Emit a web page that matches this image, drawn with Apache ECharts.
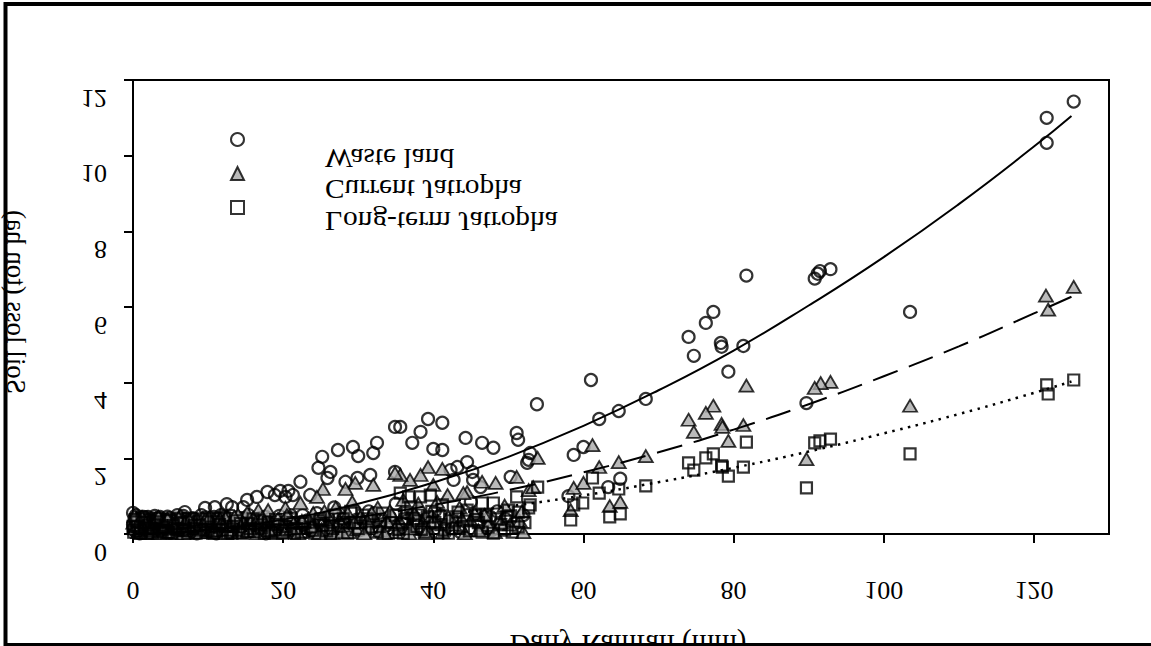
<!DOCTYPE html>
<html><head><meta charset="utf-8">
<script src="https://cdn.jsdelivr.net/npm/echarts@6/dist/echarts.min.js"></script>
<style>html,body{margin:0;padding:0;background:#fff}#c{width:1151px;height:646px}</style>
</head><body><div id="c"></div>
<script>
const seriesNames = ['Waste land', 'Current Jatropha', 'Long-term Jatropha'];
const xTicks = [0, 20, 40, 60, 80, 100, 120];
const yTicks = [0, 2, 4, 6, 8, 10, 12];
const xAxisTitle = 'Daily Rainfall (mm)';
const yAxisTitle = 'Soil loss (ton ha)';

const wasteLand = [
  [125.3,11.43],[121.7,11.0],[121.7,10.34],
  [92.9,7.0],[91.5,6.95],[91.2,6.88],[90.8,6.75],
  [81.7,6.83],[103.5,5.87],[77.3,5.87],[76.3,5.58],[78.3,5.05],[78.4,4.95],[81.3,4.97],[79.3,4.29],[89.7,3.46],[74.0,5.21],[74.7,4.71],
  [61.0,4.07],[53.8,3.43],[62.1,3.04],[64.7,3.25],[68.3,3.57],
  [51.1,2.67],[51.3,2.49],[52.9,2.14],[52.7,1.96],[52.5,1.88],[58.7,2.09],[60.0,2.30],[64.9,1.46],[63.3,1.24],[58.0,1.0],[50.3,1.51],[47.6,0.45],
  [39.3,3.04],[41.2,2.94],[38.3,2.70],[37.2,2.41],[40.0,2.25],[41.2,2.22],[44.3,2.54],[46.5,2.41],[48.0,2.28],[35.6,2.83],
  [44.5,1.90],[43.2,1.77],[42.3,1.69],[45.2,1.64],[42.7,1.43],[45.3,1.43],[46.3,1.24],
  [34.9,2.83],[32.5,2.41],[32.0,2.14],[29.3,2.30],[30.0,2.06],[27.3,2.22],[25.2,2.04],[24.7,1.75],[26.3,1.64],[25.9,1.48],[34.9,1.64],[31.6,1.56],[29.9,1.48],[28.3,1.38],[22.3,1.38],[23.6,1.03],
  [16.5,0.98],[17.9,1.11],[19.6,1.14],[20.7,1.14],[18.9,1.03],[20.3,0.98],[21.3,1.03],[15.2,0.90],[12.5,0.79],[14.7,0.71],[13.2,0.71],[10.9,0.71],[9.6,0.69],[6.9,0.58],[5.9,0.50],[3.6,0.45],[2.0,0.45],[0,0.56],
  [0.2,0.42],[0.5,0.3],[0.8,0.18],[1.0,0.36],[1.3,0.08],[1.6,0.25],[2.2,0.15],[2.6,0.33],[3.0,0.05],[3.3,0.22],[3.9,0.38],[4.4,0.12],[4.8,0.28],[5.3,0.06],[5.8,0.2],[6.4,0.35],[7.0,0.1],[7.6,0.26],[8.2,0.4],[8.8,0.14],[9.5,0.3],[10.2,0.08],[10.8,0.45],[11.4,0.2],[12.0,0.34],[12.8,0.1],[13.6,0.26],[14.3,0.42],[15.0,0.15],[15.8,0.32],[16.6,0.06],[17.3,0.22],[18.2,0.4],[19.0,0.12],[20.0,0.3],[21.0,0.5],[22.0,0.18],[23.2,0.36],[24.5,0.55],[25.5,0.25],[26.8,0.7],[28.0,0.4],[29.5,0.62],[30.8,0.3],[32.2,0.55],[33.6,0.2],[35.0,0.8],[36.5,0.35],[38.0,0.6],[39.5,0.25],[41.0,0.5],[43.0,0.3],[45.0,0.85],[48.5,0.6],[51.0,0.3],
  [0.1,0.12],[0.4,0.5],[0.9,0.02],[1.4,0.45],[1.9,0.3],[2.4,0.05],[2.9,0.48],[3.5,0.12],[4.1,0.3],[4.6,0.46],[5.1,0.2],[5.6,0.38],[6.1,0.04],[6.7,0.48],[7.3,0.18],[7.9,0.42],[8.5,0.02],[9.1,0.5],[9.8,0.15],[10.5,0.38],[11.1,0.02],[11.7,0.5],[12.4,0.22],[13.1,0.48],[13.9,0.05],[14.7,0.3],[15.4,0.5],[16.1,0.22],[16.9,0.42],[17.7,0.02],[18.6,0.18],[19.5,0.48],[20.4,0.08],[21.5,0.28],[22.6,0.5],[23.8,0.08],[25.0,0.32],[26.2,0.1],[27.4,0.55],[28.6,0.15],[29.8,0.38],[31.4,0.6],[32.8,0.05],[34.2,0.45],[35.6,0.15],[37.2,0.5],[38.6,0.1],[40.2,0.6],[41.8,0.2],[43.6,0.05],[44.5,0.5],[46.2,0.25],[47.8,0.1],[49.6,0.4],[52.0,0.5],
  [0.0,0.25],[0.3,0.08],[0.6,0.4],[1.1,0.2],[1.5,0.05],[2.0,0.38],[2.5,0.22],[3.1,0.4],[3.6,0.28],[4.2,0.05],[4.9,0.42],[5.5,0.3],[6.2,0.18],[6.9,0.4],[7.6,0.05],[8.3,0.3],[9.0,0.22],[9.7,0.44],[10.4,0.26],[11.2,0.12],[12.1,0.45],[12.9,0.3],[13.8,0.18],[14.8,0.42],[15.7,0.08],[16.7,0.3],[17.6,0.46],[18.5,0.28],[19.6,0.05],[20.6,0.35],[21.8,0.14],[23.0,0.05],[24.0,0.28],[26.0,0.45],[27.8,0.25],[30.2,0.1],[32.0,0.3],[34.8,0.05],[37.6,0.3],[39.0,0.4],[42.5,0.15],[46.8,0.45]
];

const currentJatropha = [
  [125.3,6.53],[121.6,6.30],[121.9,5.93],[92.9,4.02],[91.6,3.99],[90.8,3.86],[81.7,3.92],[103.5,3.39],[77.3,3.39],[76.3,3.2],[78.4,2.91],[78.5,2.83],[81.3,2.88],[79.3,2.46],[89.7,1.98],[74.0,3.02],[74.7,2.70],
  [61.2,2.35],[62.1,1.77],[64.7,1.90],[68.3,2.06],[53.9,2.01],[51.1,1.51],[58.7,1.22],[60.0,1.35],[63.5,0.74],[64.9,0.85],[58.3,0.63],[52.7,1.16],[53.3,1.24],[48.3,1.35],[46.5,1.38],[44.5,1.11],
  [39.3,1.77],[41.2,1.72],[38.3,1.56],[36.9,1.43],[35.6,1.56],[40.0,1.30],[41.9,1.03],[44.0,1.08],[47.3,0.24],[39.2,0.16],[36.7,0.19],
  [34.9,1.61],[32.0,1.30],[29.6,1.35],[28.3,1.19],[25.3,1.19],[24.5,0.98],[22.3,0.82],[20.3,0.69],[18.0,0.63],[16.7,0.63],[15.2,0.56],[14.0,0.50],[12.3,0.42],[9.3,0.42],[27.3,0.1],[28.9,0.05],
  [0.3,0.15],[0.7,0.05],[1.1,0.22],[1.6,0.1],[2.1,0.3],[2.7,0.04],[3.2,0.18],[3.8,0.08],[4.5,0.25],[5.1,0.12],[5.7,0.02],[6.3,0.2],[7.1,0.1],[7.9,0.28],[8.7,0.05],[9.9,0.16],[10.6,0.3],[11.3,0.06],[12.9,0.2],[13.7,0.08],[14.6,0.32],[15.6,0.14],[16.9,0.26],[17.8,0.05],[18.8,0.35],[19.6,0.15],[20.8,0.45],[21.7,0.08],[22.8,0.25],[24.0,0.55],[25.1,0.12],[26.2,0.4],[27.0,0.7],[28.0,0.22],[29.2,0.85],[30.3,0.45],[31.5,0.15],[32.6,0.7],[33.8,0.35],[35.0,0.05],[36.0,0.9],[37.5,0.55],[38.6,0.3],[40.5,0.85],[42.0,0.45],[43.5,0.7],[45.5,0.55],[49.5,0.75],[51.5,0.35],[52.0,0.05],
  [0.05,0.3],[0.5,0.42],[0.9,0.1],[1.4,0.35],[1.8,0.02],[2.4,0.2],[3.0,0.4],[3.5,0.02],[4.1,0.32],[4.8,0.06],[5.4,0.38],[6.0,0.14],[6.7,0.02],[7.5,0.36],[8.3,0.18],[9.0,0.04],[9.6,0.38],[10.3,0.1],[11.0,0.22],[11.6,0.4],[12.4,0.02],[13.2,0.34],[14.2,0.04],[15.0,0.2],[16.0,0.42],[16.5,0.02],[17.4,0.14],[18.3,0.22],[19.0,0.02],[20.0,0.2],[20.5,0.5],[21.4,0.28],[22.0,0.02],[23.4,0.4],[24.4,0.1],[25.5,0.6],[26.6,0.02],[27.5,0.35],[28.6,0.55],[29.8,0.12],[30.8,0.02],[31.8,0.55],[33.0,0.1],[34.2,0.6],[35.5,0.35],[36.8,0.02],[38.0,0.8],[39.8,0.5],[41.2,0.05],[42.8,0.25],[44.2,0.02],[45.0,0.35],[46.8,0.5],[48.2,0.05],[50.2,0.25],[51.8,0.6],
  [0.2,0.48],[0.6,0.25],[1.2,0.45],[1.7,0.28],[2.3,0.08],[2.9,0.3],[3.4,0.45],[4.0,0.15],[4.6,0.4],[5.3,0.28],[6.1,0.42],[6.9,0.3],[7.7,0.15],[8.5,0.38],[9.3,0.25],[10.1,0.42],[10.9,0.1],[11.8,0.3],[12.7,0.12],[13.5,0.45],[14.4,0.2],[15.3,0.08],[16.3,0.3],[17.2,0.42],[18.1,0.1],[19.3,0.4],[20.2,0.05],[21.1,0.15],[22.5,0.35],[23.8,0.2],[24.8,0.02],[26.0,0.25],[27.9,0.05],[29.5,0.3],[31.2,0.35],[33.5,0.02],[35.2,0.25],[37.0,0.15],[39.0,0.02],[40.0,0.35],[43.8,0.4],[46.0,0.1],[49.0,0.3]
];

const longTermJatropha = [
  [125.3,4.07],[121.7,3.94],[121.9,3.70],[92.9,2.51],[91.5,2.46],[90.8,2.41],[81.7,2.43],[103.5,2.12],[77.3,2.12],[76.3,2.01],[78.4,1.80],[78.5,1.77],[81.3,1.77],[79.3,1.53],[89.7,1.22],[74.0,1.88],[74.7,1.69],
  [61.2,1.48],[62.1,1.08],[64.7,1.19],[68.3,1.27],[53.9,1.24],[51.1,0.98],[59.9,0.82],[58.7,0.77],[63.5,0.45],[64.9,0.53],[58.3,0.37],[52.9,0.77],[52.7,0.69],[48.0,0.82],[46.5,0.82],[44.5,0.63],[45.6,0.50],
  [39.6,1.03],[41.2,0.77],[38.3,0.98],[36.7,0.98],[35.6,1.08],[40.7,0.45],[43.3,0.58],[39.2,0.45],[50.0,0.63],[50.3,0.48],[51.3,0.58],[51.3,0.19],[47.3,0.19],[37.0,0.72],[36.5,0.56],
  [0.1,0.05],[0.6,0.2],[1.0,0.1],[1.5,0.3],[1.9,0.02],[2.4,0.14],[2.9,0.26],[3.5,0.06],[4.1,0.18],[4.7,0.04],[5.4,0.22],[6.0,0.1],[6.7,0.3],[7.3,0.02],[8.0,0.15],[8.9,0.24],[9.7,0.05],[10.4,0.18],[11.1,0.32],[11.9,0.1],[12.6,0.02],[13.4,0.2],[14.1,0.1],[15.3,0.28],[16.2,0.06],[17.1,0.16],[18.4,0.04],[19.3,0.25],[20.5,0.1],[21.3,0.3],[22.4,0.05],[23.6,0.18],[24.8,0.35],[25.8,0.08],[26.9,0.5],[28.2,0.3],[29.0,0.6],[30.0,0.15],[31.2,0.4],[32.4,0.05],[33.2,0.55],[34.4,0.3],[35.4,0.12],[36.2,0.4],[37.8,0.2],[38.8,0.05],[40.2,0.3],[41.5,0.1],[42.5,0.35],[44.0,0.2],[46.0,0.3],[48.5,0.4],[49.5,0.1],
  [0.3,0.38],[0.8,0.02],[1.2,0.45],[1.7,0.16],[2.2,0.36],[2.7,0.1],[3.2,0.42],[3.8,0.22],[4.4,0.02],[5.0,0.35],[5.7,0.15],[6.3,0.42],[7.0,0.08],[7.7,0.34],[8.4,0.02],[9.3,0.4],[10.0,0.12],[10.8,0.02],[11.5,0.25],[12.2,0.42],[13.0,0.05],[13.8,0.35],[14.6,0.02],[15.6,0.14],[16.6,0.36],[17.5,0.02],[18.0,0.3],[18.9,0.12],[19.9,0.02],[20.9,0.42],[21.8,0.14],[22.9,0.32],[24.2,0.02],[25.3,0.22],[26.3,0.02],[27.4,0.2],[28.6,0.02],[29.5,0.3],[30.6,0.5],[31.8,0.18],[33.0,0.35],[34.0,0.02],[35.0,0.5],[36.0,0.02],[37.4,0.4],[38.4,0.12],[39.8,0.6],[41.0,0.25],[42.0,0.02],[43.0,0.45],[44.8,0.08],[45.8,0.38],[47.0,0.5],[48.0,0.02],[49.0,0.25],[50.5,0.05],[52.2,0.3],
  [0.0,0.2],[0.5,0.32],[1.0,0.02],[1.6,0.4],[2.1,0.22],[2.6,0.02],[3.3,0.32],[3.9,0.1],[4.5,0.38],[5.2,0.02],[5.9,0.28],[6.6,0.1],[7.4,0.4],[8.2,0.22],[9.0,0.1],[9.9,0.32],[10.6,0.02],[11.4,0.4],[12.4,0.2],[13.2,0.02],[14.3,0.28],[15.2,0.06],[16.0,0.4],[17.0,0.24],[18.1,0.08],[19.0,0.38],[20.2,0.2],[21.5,0.02],[22.6,0.28],[23.9,0.1],[25.0,0.4],[26.6,0.15],[28.0,0.4],[30.3,0.3],[32.8,0.2],[35.8,0.28],[38.0,0.35],[40.6,0.02],[43.5,0.15],[46.5,0.05],[49.8,0.45]
];

// trend curves
const fitX       = [0, 10, 20, 30, 40, 50, 60, 70, 80, 90, 100, 110, 120, 125];
const wasteFit   = [0, 0.11, 0.38, 0.80, 1.36, 2.04, 2.86, 3.80, 4.85, 6.04, 7.32, 8.72, 10.24, 11.05];
const currentFit = [0, 0.06, 0.22, 0.45, 0.77, 1.16, 1.63, 2.16, 2.76, 3.43, 4.17, 4.96, 5.83, 6.27];
const longFit    = [0, 0.04, 0.13, 0.28, 0.48, 0.73, 1.02, 1.37, 1.75, 2.18, 2.66, 3.17, 3.73, 4.03];

const FONT = '"Liberation Serif", "Times New Roman", serif';
const chart = echarts.init(document.getElementById('c'), null, {renderer: 'svg'});

function pairs(xs, ys) { return xs.map((x, i) => [x, ys[i]]); }

const scatterBase = {type: 'scatter', clip: false, silent: true, emphasis: {disabled: true}};
const lineBase = {type: 'line', showSymbol: false, smooth: true, silent: true, clip: false, emphasis: {disabled: true}};

chart.setOption({
  animation: false,
  backgroundColor: '#fff',
  grid: {left: 133, top: 80, right: 42, bottom: 112, show: true, borderColor: '#000', borderWidth: 2, backgroundColor: 'transparent'},
  xAxis: {
    type: 'value', min: 0, max: 130, interval: 20,
    axisLine: {show: true, onZero: false, lineStyle: {color: '#000', width: 2}},
    axisTick: {show: true, inside: false, length: 9, lineStyle: {color: '#000', width: 2}, customValues: xTicks},
    axisLabel: {show: false},
    splitLine: {show: false}
  },
  yAxis: {
    type: 'value', min: 0, max: 12, interval: 2,
    axisLine: {show: true, onZero: false, lineStyle: {color: '#000', width: 2}},
    axisTick: {show: true, inside: false, length: 9, lineStyle: {color: '#000', width: 2}, customValues: yTicks},
    axisLabel: {show: false},
    splitLine: {show: false}
  },
  legend: {
    orient: 'vertical', left: 225, top: 127, itemWidth: 13, itemHeight: 13, itemGap: 19,
    selectedMode: false, formatter: () => '', textStyle: {fontSize: 1},
    data: seriesNames
  },
  series: [
    Object.assign({}, scatterBase, {name: seriesNames[0], symbol: 'circle', symbolSize: 12, data: wasteLand,
      itemStyle: {color: 'rgba(255,255,255,0)', borderColor: '#000', borderWidth: 2.2}}),
    Object.assign({}, scatterBase, {name: seriesNames[1], symbol: 'triangle', symbolSize: [14, 12], data: currentJatropha,
      itemStyle: {color: '#a9a9a9', borderColor: '#000', borderWidth: 1.8}}),
    Object.assign({}, scatterBase, {name: seriesNames[2], symbol: 'rect', symbolSize: 11, data: longTermJatropha,
      itemStyle: {color: 'rgba(255,255,255,0)', borderColor: '#000', borderWidth: 2.2}}),
    Object.assign({}, lineBase, {name: 'fit-waste', data: pairs(fitX, wasteFit), lineStyle: {color: '#000', width: 2, type: 'solid'}}),
    Object.assign({}, lineBase, {name: 'fit-current', data: pairs(fitX, currentFit), lineStyle: {color: '#000', width: 2, type: [26, 12]}}),
    Object.assign({}, lineBase, {name: 'fit-long', data: pairs(fitX, longFit), lineStyle: {color: '#000', width: 2.5, type: [2.5, 5.5]}})
  ]
});

// mirrored text, as in the reference
function flipText(text, x, y, size, align, rotation, sx) {
  return {
    type: 'text', x: x, y: y, rotation: rotation || 0, scaleX: sx || 1, scaleY: -1, silent: true, z: 100,
    style: {text: text, font: size + 'px ' + FONT, fill: '#000',
      align: align, verticalAlign: 'middle', textAlign: align, textVerticalAlign: 'middle'}
  };
}

const g = [];
xTicks.forEach(v => {
  const px = chart.convertToPixel({xAxisIndex: 0}, v);
  const py = chart.convertToPixel({yAxisIndex: 0}, 0);
  g.push(flipText(String(v), px, py + 56, 26, 'center'));
});
yTicks.forEach(v => {
  const py = chart.convertToPixel({yAxisIndex: 0}, v);
  const px = chart.convertToPixel({xAxisIndex: 0}, 0);
  g.push(flipText(String(v), px - 26, py + 18, 26, 'right'));
});
const legendY = [158, 189, 221];
seriesNames.forEach((n, i) => g.push(flipText(n, 325, legendY[i], 27, 'left', 0, 1.09)));
g.push(flipText(xAxisTitle, 628, 645, 29, 'center'));
g.push(flipText(yAxisTitle, 16, 302, 27, 'center', Math.PI / 2));
g.push({type: 'rect', silent: true, z: 101, shape: {x: 5.5, y: 4, width: 1200, height: 641},
  style: {fill: 'none', stroke: '#000', lineWidth: 4}});

chart.setOption({graphic: {elements: g}});
</script>
</body></html>
